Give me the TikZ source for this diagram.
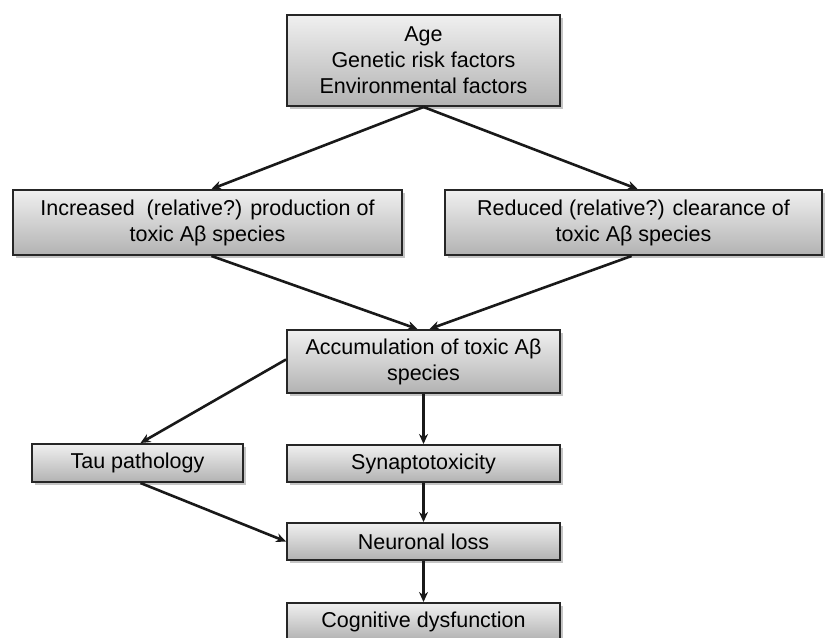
\documentclass[tikz,border=0pt]{standalone}
\usepackage{fontspec}
\setmainfont{Liberation Sans}
\usetikzlibrary{arrows.meta,shadows,calc}
\begin{document}
\begin{tikzpicture}[x=1pt,y=1pt,
  box/.style={draw=black!85, line width=2pt, top color=white!94!black, bottom color=black!30,
    drop shadow={shadow xshift=2.5pt, shadow yshift=-2.5pt, fill=black!45, opacity=0.5},
    align=center, inner sep=0pt, font=\fontsize{21.5}{26}\selectfont},
  arr/.style={-{Stealth[length=10pt,width=9pt]}, line width=2.6pt, black!90}]
\useasboundingbox (0,0) rectangle (826,-637);
\node[box, minimum width=273, minimum height=91] (top) at (423.5,-60.5) {Age\\Genetic risk factors\\Environmental factors};
\node[box, minimum width=389, minimum height=65] (inc) at (207.5,-222.5) {Increased \ (relative?) production of\\toxic Aβ species};
\node[box, minimum width=377, minimum height=65] (red) at (633.5,-222.5) {Reduced (relative?) clearance of\\toxic Aβ species};
\node[box, minimum width=273, minimum height=63] (acc) at (423.5,-361.5) {Accumulation of toxic Aβ\\species};
\node[box, minimum width=211, minimum height=38] (tau) at (137.5,-463) {Tau pathology};
\node[box, minimum width=273, minimum height=37] (syn) at (423.5,-463.5) {Synaptotoxicity};
\node[box, minimum width=273, minimum height=37] (neu) at (423.5,-541.5) {Neuronal loss};
\node[box, minimum width=273, minimum height=37] (cog) at (423.5,-621.5) {Cognitive dysfunction};
\draw[arr] (top.south) -- ([xshift=4pt]inc.north);
\draw[arr] (top.south) -- ([xshift=4pt]red.north);
\draw[arr] ([xshift=4pt]inc.south) -- ([xshift=-6pt]acc.north);
\draw[arr] ([xshift=-2pt]red.south) -- ([xshift=6pt]acc.north);
\draw[arr] ([yshift=2pt]acc.west) -- ([xshift=3pt]tau.north);
\draw[arr] (acc.south) -- (syn.north);
\draw[arr] ([xshift=3pt]tau.south) -- (neu.west);
\draw[arr] (syn.south) -- (neu.north);
\draw[arr] (neu.south) -- (cog.north);
\end{tikzpicture}
\end{document}
